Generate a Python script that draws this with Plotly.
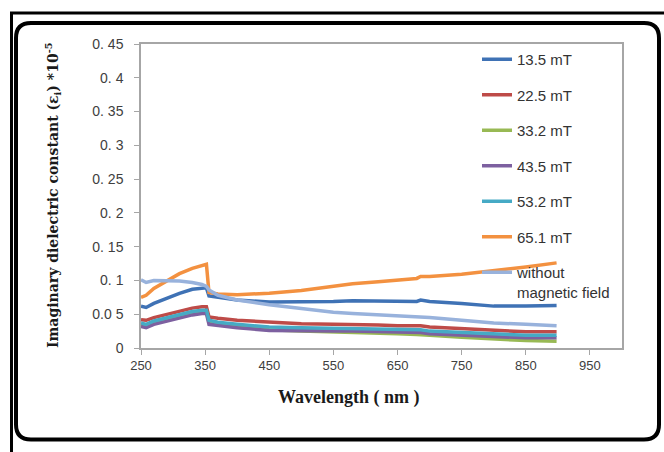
import plotly.graph_objects as go

# Wavelength samples (nm)
wavelength = [250, 258, 270, 290, 310, 330, 345, 352, 356, 370, 400, 450, 500,
              550, 580, 620, 650, 680, 686, 700, 750, 800, 850, 898]

# Imaginary dielectric constant (x10^-5) for each magnetic field
eps_13_5 = [0.062, 0.060, 0.066, 0.074, 0.081, 0.087, 0.089, 0.089, 0.077, 0.075, 0.071, 0.068, 0.068,
            0.069, 0.070, 0.070, 0.069, 0.069, 0.071, 0.069, 0.066, 0.062, 0.062, 0.063]
eps_22_5 = [0.042, 0.041, 0.045, 0.050, 0.055, 0.059, 0.061, 0.061, 0.046, 0.044, 0.041, 0.038, 0.036,
            0.035, 0.035, 0.034, 0.033, 0.032, 0.033, 0.031, 0.029, 0.026, 0.024, 0.024]
eps_33_2 = [0.035, 0.033, 0.038, 0.043, 0.048, 0.052, 0.054, 0.054, 0.038, 0.035, 0.031, 0.027, 0.025,
            0.024, 0.023, 0.022, 0.021, 0.020, 0.020, 0.019, 0.016, 0.013, 0.011, 0.010]
eps_43_5 = [0.032, 0.030, 0.035, 0.040, 0.045, 0.049, 0.051, 0.051, 0.035, 0.033, 0.030, 0.026, 0.025,
            0.025, 0.025, 0.024, 0.023, 0.022, 0.023, 0.021, 0.019, 0.016, 0.015, 0.015]
eps_53_2 = [0.037, 0.035, 0.040, 0.045, 0.050, 0.054, 0.056, 0.056, 0.041, 0.038, 0.035, 0.031, 0.030,
            0.029, 0.029, 0.028, 0.027, 0.026, 0.027, 0.025, 0.023, 0.020, 0.019, 0.019]
eps_65_1 = [0.075, 0.078, 0.088, 0.099, 0.110, 0.118, 0.122, 0.124, 0.082, 0.080, 0.079, 0.081, 0.085,
            0.091, 0.095, 0.098, 0.101, 0.103, 0.106, 0.106, 0.109, 0.114, 0.120, 0.126]
eps_no_field = [0.101, 0.097, 0.100, 0.100, 0.099, 0.097, 0.094, 0.091, 0.086, 0.078, 0.071, 0.064, 0.058,
                0.053, 0.051, 0.049, 0.047, 0.046, 0.046, 0.045, 0.041, 0.037, 0.035, 0.033]

series_names = ["13.5 mT", "22.5 mT", "33.2 mT", "43.5 mT", "53.2 mT", "65.1 mT",
                "without<br>magnetic field"]
series_values = [eps_13_5, eps_22_5, eps_33_2, eps_43_5, eps_53_2, eps_65_1, eps_no_field]
series_colors = ["#3F72B5", "#BE4B48", "#98B954", "#7D60A0", "#46AAC5", "#F39140", "#98B2DC"]

x_ticks = [250, 350, 450, 550, 650, 750, 850, 950]
y_tickvals = [0, 0.05, 0.1, 0.15, 0.2, 0.25, 0.3, 0.35, 0.4, 0.45]
y_ticktext = ["0", "0.0 5", "0. 1", "0. 15", "0. 2", "0. 25", "0. 3", "0. 35", "0. 4", "0. 45"]

fig = go.Figure()
for name, vals, col in zip(series_names, series_values, series_colors):
    fig.add_trace(go.Scatter(
        x=wavelength, y=vals, mode="lines", name=name, legendgroup=name,
        line=dict(color=col, width=3.5),
    ))

# plot-area geometry in pixels
L, R, T, B = 141, 622, 44, 348
W, H = R - L, B - T
FIG_W, FIG_H = 664, 452


def px(x):
    return (x - L) / W


def py(y):
    return (B - y) / H


def rounded_rect(x0, y0, x1, y1, r):
    pts = [
        f"M {px(x0 + r)},{py(y0)}",
        f"L {px(x1 - r)},{py(y0)}",
        f"Q {px(x1)},{py(y0)} {px(x1)},{py(y0 + r)}",
        f"L {px(x1)},{py(y1 - r)}",
        f"Q {px(x1)},{py(y1)} {px(x1 - r)},{py(y1)}",
        f"L {px(x0 + r)},{py(y1)}",
        f"Q {px(x0)},{py(y1)} {px(x0)},{py(y1 - r)}",
        f"L {px(x0)},{py(y0 + r)}",
        f"Q {px(x0)},{py(y0)} {px(x0 + r)},{py(y0)}",
        "Z",
    ]
    return " ".join(pts)


shapes = [
    # outer thin frame
    dict(type="rect", xref="paper", yref="paper",
         x0=px(11.5), y0=py(13), x1=px(FIG_W + 20), y1=py(FIG_H + 20),
         line=dict(color="black", width=3), fillcolor="rgba(0,0,0,0)"),
    # rounded inner frame
    dict(type="path", xref="paper", yref="paper",
         path=rounded_rect(16, 23, 659, 439.5, 15),
         line=dict(color="black", width=4), fillcolor="rgba(0,0,0,0)"),
]

axis_line = "#A6A6A6"
fig.update_layout(
    width=FIG_W, height=FIG_H,
    margin=dict(l=L, r=FIG_W - R, t=T, b=FIG_H - B, pad=0),
    paper_bgcolor="white", plot_bgcolor="white",
    showlegend=True,
    legend=dict(
        x=px(477), y=py(43), xanchor="left", yanchor="top",
        bgcolor="rgba(0,0,0,0)", borderwidth=0,
        font=dict(family="Liberation Sans, Arial, sans-serif", size=15, color="#333333"),
        tracegroupgap=13, valign="top", itemwidth=30, maxheight=420,
    ),
    xaxis=dict(
        range=[250, 1000], tickvals=x_ticks, ticks="outside", ticklen=5,
        tickcolor=axis_line, showgrid=False, zeroline=False,
        showline=True, linecolor=axis_line, linewidth=1.5, mirror=True,
        tickfont=dict(family="Liberation Sans, Arial, sans-serif", size=13, color="#404040"),
    ),
    yaxis=dict(
        range=[0, 0.45], tickvals=y_tickvals, ticktext=y_ticktext,
        ticks="outside", ticklen=5, tickcolor=axis_line,
        showgrid=False, zeroline=False,
        showline=True, linecolor=axis_line, linewidth=1.5, mirror=True,
        tickfont=dict(family="Liberation Sans, Arial, sans-serif", size=14, color="#404040"),
        ticklabelstandoff=8,
    ),
    shapes=shapes,
    annotations=[
        dict(text="Wavelength ( nm )", xref="paper", yref="paper",
             x=px(349), y=py(397), showarrow=False, xanchor="center", yanchor="middle",
             font=dict(family="Liberation Serif, Times New Roman, serif", size=18,
                       color="#1a1a1a", weight="bold")),
        dict(text="Imaginary dielectric constant (ε<sub>i</sub>) *10<sup>-5</sup>",
             xref="paper", yref="paper", x=px(53), y=py(195), textangle=-90,
             showarrow=False, xanchor="center", yanchor="middle",
             font=dict(family="DejaVu Serif, serif", size=14, color="#1a1a1a", weight="bold")),
    ],
)

fig.write_html("out.html")
